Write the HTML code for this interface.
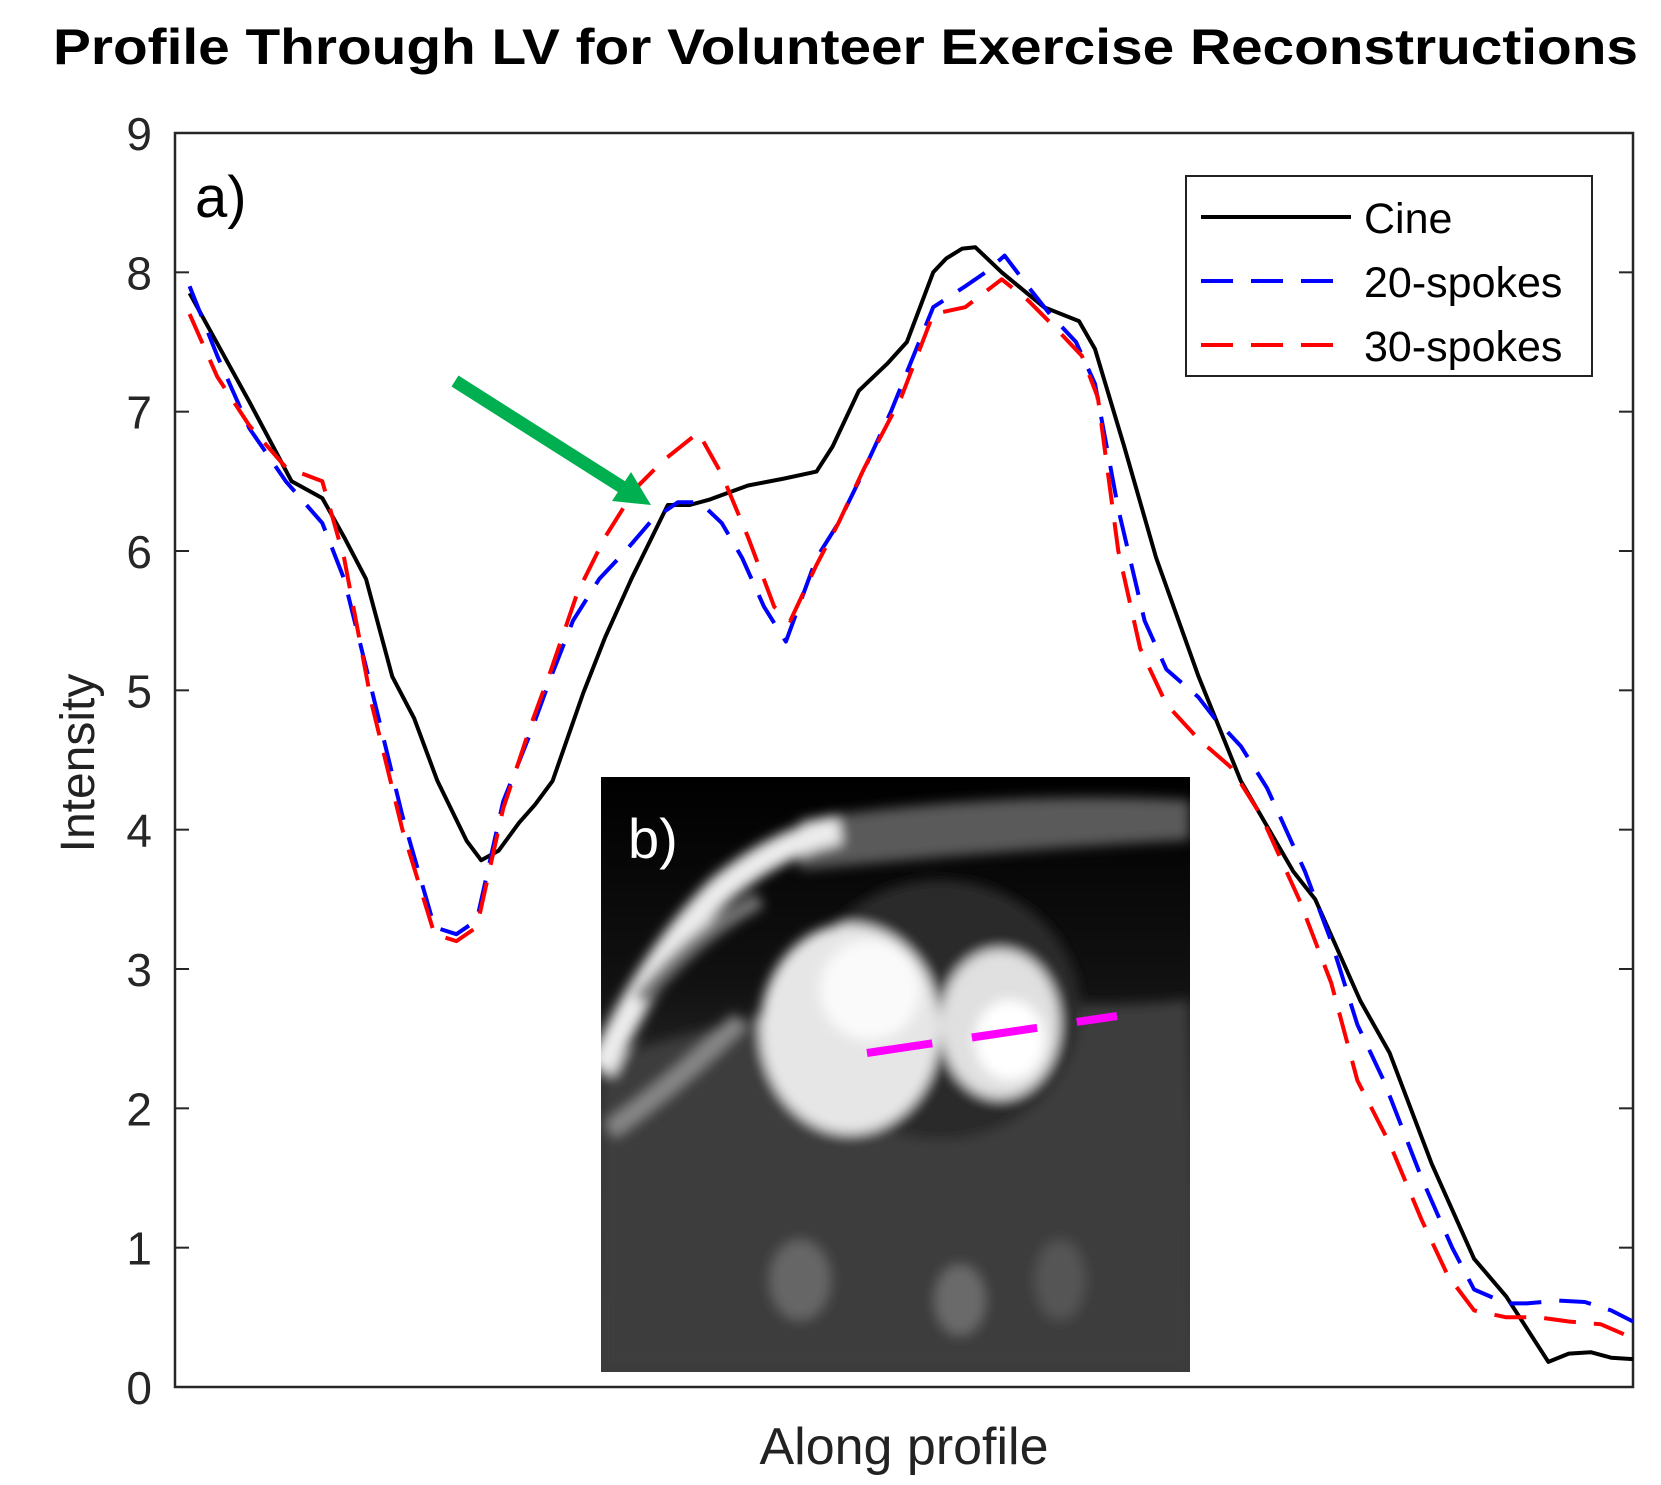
<!DOCTYPE html>
<html><head><meta charset="utf-8"><style>
html,body{margin:0;padding:0;background:#fff;}
svg{display:block;}
</style></head><body>
<svg id="chart" width="1661" height="1485" viewBox="0 0 1661 1485" xmlns="http://www.w3.org/2000/svg" font-family="Liberation Sans, sans-serif">
<rect width="1661" height="1485" fill="#fff"/>
<text x="53" y="64" font-size="50" font-weight="bold" textLength="1585" lengthAdjust="spacingAndGlyphs">Profile Through LV for Volunteer Exercise Reconstructions</text>
<g id="inset">
  <defs>
    <clipPath id="ic"><rect x="601" y="777" width="589" height="595"/></clipPath>
    <filter id="bl"><feGaussianBlur stdDeviation="6"/></filter>
    <linearGradient id="bg" x1="0" y1="0" x2="0" y2="1">
      <stop offset="0" stop-color="#000"/><stop offset="0.35" stop-color="#111"/><stop offset="0.6" stop-color="#333"/><stop offset="1" stop-color="#3a3a3a"/>
    </linearGradient>
  </defs>
  <g clip-path="url(#ic)">
    <rect x="601" y="777" width="589" height="595" fill="url(#bg)"/>
    <g filter="url(#bl)">
      <path d="M601 1110 L601 1060 Q700 1030 820 1000 Q900 1010 1000 1000 Q1100 1010 1190 1000 L1190 1372 L601 1372 Z" fill="#3c3c3c"/>
      <path d="M800 820 Q1000 790 1190 800 L1190 840 Q1000 850 800 870 Z" fill="#5a5a5a"/>
      <path d="M601 1070 Q650 960 720 890 Q780 840 840 830" stroke="#ececec" stroke-width="28" fill="none"/>
      <path d="M610 1130 Q680 1080 740 1020" stroke="#888" stroke-width="18" fill="none"/>
      <path d="M640 1000 Q700 930 760 900" stroke="#777" stroke-width="16" fill="none"/>
      <ellipse cx="940" cy="1010" rx="140" ry="130" fill="#2a2a2a"/>
      <ellipse cx="850" cy="1029" rx="90" ry="105" fill="#e6e6e6"/>
      <ellipse cx="870" cy="990" rx="50" ry="50" fill="#fafafa"/>
      <ellipse cx="1000" cy="1024" rx="60" ry="75" fill="#e0e0e0"/>
      <ellipse cx="1010" cy="1040" rx="35" ry="40" fill="#fff"/>
      <ellipse cx="800" cy="1280" rx="30" ry="40" fill="#666"/>
      <ellipse cx="960" cy="1300" rx="25" ry="35" fill="#6a6a6a"/>
      <ellipse cx="1060" cy="1280" rx="25" ry="40" fill="#555"/>
    </g>
    <line x1="867" y1="1053" x2="1117" y2="1016" stroke="#ff00ff" stroke-width="8" stroke-dasharray="66 40"/>
  </g>
  <text x="628" y="858" font-size="56" fill="#fff">b)</text>
</g>
<g id="axes"></g>
<g id="series"></g>
<g>
  <line x1="455" y1="381" x2="622" y2="487" stroke="#00b050" stroke-width="13"/>
  <polygon points="651,505 612,501 631,472" fill="#00b050"/>
</g>
<text x="195" y="217" font-size="58">a)</text>
<g>
  <rect x="1186" y="176" width="406" height="200" fill="#fff" stroke="#222" stroke-width="2"/>
  <line x1="1201" y1="217" x2="1351" y2="217" stroke="#000" stroke-width="4"/>
  <text x="1364" y="233" font-size="43">Cine</text>
  <line x1="1201" y1="281" x2="1351" y2="281" stroke="#0000ff" stroke-width="4" stroke-dasharray="32 18"/>
  <text x="1364" y="297" font-size="43">20-spokes</text>
  <line x1="1201" y1="345" x2="1351" y2="345" stroke="#ff0000" stroke-width="4" stroke-dasharray="32 18"/>
  <text x="1364" y="361" font-size="43">30-spokes</text>
</g>
<text transform="translate(94,763) rotate(-90)" text-anchor="middle" font-size="48" fill="#222">Intensity</text>
<text x="904" y="1464" text-anchor="middle" font-size="52" fill="#222">Along profile</text>
<script>
const yTicks=[0,1,2,3,4,5,6,7,8,9];
const cineX=[1,5.1,8,10.1,11.6,13.1,14.9,16.4,18,20,21,22.2,23.6,24.7,25.9,28,29.5,31.3,33.8,35.3,36.7,39.3,41.8,44,45.1,46.9,48.9,50.2,52,52.9,54,54.9,56.7,59.6,62,63.1,65.1,67.3,70.2,73.1,76.7,78.2,81.3,83.3,86.2,89.1,91.3,94.2,95.6,97.1,98.5,100];
const cineY=[7.85,7.07,6.5,6.38,6.1,5.8,5.1,4.8,4.35,3.92,3.78,3.85,4.05,4.18,4.35,4.98,5.38,5.8,6.33,6.33,6.37,6.47,6.52,6.57,6.75,7.15,7.35,7.5,8.0,8.1,8.17,8.18,8.0,7.75,7.65,7.45,6.75,5.95,5.1,4.35,3.7,3.5,2.77,2.4,1.6,0.92,0.65,0.18,0.24,0.25,0.21,0.2];
const s20X=[1,2.9,5.1,7.6,10.1,11.6,13.5,15.6,17.8,19.3,20.7,22.5,24.4,25.8,27.3,29.1,30.9,32.7,34.5,36,37.5,38.9,40.4,41.9,44,45.5,46.9,49.1,52,54.2,55.6,56.9,58.5,60,61.8,63.1,64.7,66.5,68,70.2,71.3,73.1,74.9,77.5,79.3,81.1,82.9,85.5,87.6,89.1,91.3,92.7,94.9,96.7,98.5,100];
const s20Y=[7.9,7.4,6.88,6.5,6.2,5.8,5.0,4.1,3.3,3.25,3.35,4.2,4.7,5.1,5.5,5.8,6.0,6.22,6.35,6.35,6.2,5.95,5.6,5.35,5.95,6.2,6.5,7.0,7.75,7.9,8.0,8.12,7.9,7.7,7.5,7.2,6.3,5.5,5.15,4.95,4.8,4.6,4.3,3.7,3.2,2.6,2.2,1.5,1.0,0.7,0.6,0.6,0.62,0.61,0.55,0.47];
const s30X=[1,2.9,5.1,7.6,10.1,11.6,13.5,15.6,17.8,19.3,20.7,22.5,24.4,25.8,27.6,29.5,31.6,33.5,35.9,37.5,39.3,41.1,42.2,44,45.5,47.3,49.8,52,54.2,56.7,58.5,60.4,62.2,63.3,64.7,66.2,68,70.2,72.4,74.5,77.1,79.3,81.1,83.3,85.5,87.3,89.1,91.3,93.5,95.6,97.8,100];
const s30Y=[7.7,7.25,6.9,6.6,6.5,5.95,4.9,4.0,3.25,3.2,3.3,4.15,4.75,5.15,5.7,6.1,6.45,6.65,6.85,6.55,6.1,5.6,5.5,5.9,6.2,6.6,7.1,7.7,7.75,7.95,7.8,7.6,7.4,7.1,6.0,5.3,4.9,4.65,4.45,4.1,3.5,2.9,2.2,1.75,1.2,0.8,0.55,0.5,0.5,0.47,0.45,0.35];
const NS='http://www.w3.org/2000/svg';
const L=175,R=1633,T=133,B=1387;
function sx(v){return L+v/100*(R-L);}
function sy(v){return B-v/9*(B-T);}
const ax=document.getElementById('axes');
for(const t of yTicks){
  const y=sy(t);
  const tl=document.createElementNS(NS,'line');
  
  
  tl.setAttribute('x1',L);tl.setAttribute('x2',L+14);tl.setAttribute('y1',y);tl.setAttribute('y2',y);
  tl.setAttribute('stroke','#262626');tl.setAttribute('stroke-width','2');ax.appendChild(tl);
  const tr=document.createElementNS(NS,'line');
  
  
  tr.setAttribute('x1',R-14);tr.setAttribute('x2',R);tr.setAttribute('y1',y);tr.setAttribute('y2',y);
  tr.setAttribute('stroke','#262626');tr.setAttribute('stroke-width','2');ax.appendChild(tr);
  const tx=document.createElementNS(NS,'text');
  
  
  tx.setAttribute('x',152);tx.setAttribute('y',y+17);tx.setAttribute('text-anchor','end');
  tx.setAttribute('font-size','46');tx.setAttribute('fill','#262626');
  tx.textContent=t;ax.appendChild(tx);
}
const box=document.createElementNS(NS,'rect');


box.setAttribute('x',L);box.setAttribute('y',T);box.setAttribute('width',R-L);box.setAttribute('height',B-T);
box.setAttribute('fill','none');box.setAttribute('stroke','#262626');box.setAttribute('stroke-width','2.5');
ax.appendChild(box);
const sg=document.getElementById('series');
function line(xs,ys,color,dash,name){
  const p=document.createElementNS(NS,'polyline');
  
  
  p.setAttribute('points',xs.map((x,i)=>sx(x).toFixed(1)+','+sy(ys[i]).toFixed(1)).join(' '));
  p.setAttribute('fill','none');p.setAttribute('stroke',color);p.setAttribute('stroke-width','4');
  p.setAttribute('stroke-linejoin','round');
  if(dash)p.setAttribute('stroke-dasharray',dash);
  sg.appendChild(p);
}
line(cineX,cineY,'#000',null,'cine-line');
line(s20X,s20Y,'#0000ff','32 18','spokes-20-line');
line(s30X,s30Y,'#ff0000','32 18','spokes-30-line');
</script>
</svg>
</body></html>
